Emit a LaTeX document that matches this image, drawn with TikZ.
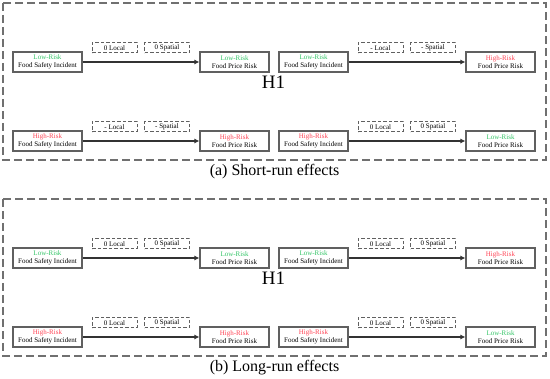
\documentclass[tikz,border=0pt]{standalone}
\usepackage{fontspec}
\setmainfont{Liberation Serif}
\usetikzlibrary{arrows.meta}
\definecolor{lowc}{HTML}{33C466}
\definecolor{highc}{HTML}{FF4455}
\definecolor{framec}{HTML}{707070}
\definecolor{boxc}{HTML}{606060}
\tikzset{
 riskbox/.style={draw=boxc, line width=1.1pt, minimum width=69pt, minimum height=20pt, inner sep=0pt, align=center, font=\fontsize{7}{8}\selectfont},
 effbox/.style={draw=boxc, dash pattern=on 3.5pt off 2pt, line width=1pt, minimum width=45pt, minimum height=10pt, inner sep=0pt, font=\fontsize{7}{8}\selectfont},
 link/.style={draw=black!80, line width=1.1pt, -{Latex[length=5pt,width=5pt]}},
 panelframe/.style={draw=framec, line width=1.2pt, dash pattern=on 8pt off 4pt},
 bigtext/.style={font=\fontsize{19}{22}\selectfont, inner sep=0pt},
 captext/.style={font=\fontsize{16}{19}\selectfont, inner sep=0pt},
}
\newcommand\LowR{\textcolor{lowc}{Low-Risk}}
\newcommand\HighR{\textcolor{highc}{High-Risk}}
\newcommand\pairlink[7]{%
 \node[riskbox] (#1s) at (47.5+#2,#3) {#4\\Food Safety Incident};
 \node[riskbox] (#1t) at (234.5+#2,#3) {#7\\Food Price Risk};
 \node[effbox] (#1l) at (114.5+#2,#3-14) {#5};
 \node[effbox] (#1p) at (167+#2,#3-14) {#6};
 \draw[link] (#1s) -- (#1t);
}
\begin{document}
\begin{tikzpicture}[x={(1pt,0)}, y={(0,-1pt)}]
\useasboundingbox (0,0) rectangle (550,379);
% panel (a)
\draw[panelframe] (3,3) rectangle (546,160);
\pairlink{aTL}{0}{62}{\LowR}{0 Local}{0 Spatial}{\LowR}
\pairlink{aTR}{266}{62}{\LowR}{- Local}{- Spatial}{\HighR}
\pairlink{aBL}{0}{141}{\HighR}{- Local}{- Spatial}{\HighR}
\pairlink{aBR}{266}{141}{\HighR}{0 Local}{0 Spatial}{\LowR}
\node[bigtext] (hA) at (273.5,82) {H1};
\node[captext] (capA) at (274.5,172) {(a) Short-run effects};
% panel (b)
\draw[panelframe] (3,199) rectangle (546,356);
\pairlink{bTL}{0}{258}{\LowR}{0 Local}{0 Spatial}{\LowR}
\pairlink{bTR}{266}{258}{\LowR}{0 Local}{0 Spatial}{\HighR}
\pairlink{bBL}{0}{337}{\HighR}{0 Local}{0 Spatial}{\HighR}
\pairlink{bBR}{266}{337}{\HighR}{0 Local}{0 Spatial}{\LowR}
\node[bigtext] (hB) at (273.5,278) {H1};
\node[captext] (capB) at (274.5,368) {(b) Long-run effects};
\end{tikzpicture}
\end{document}
